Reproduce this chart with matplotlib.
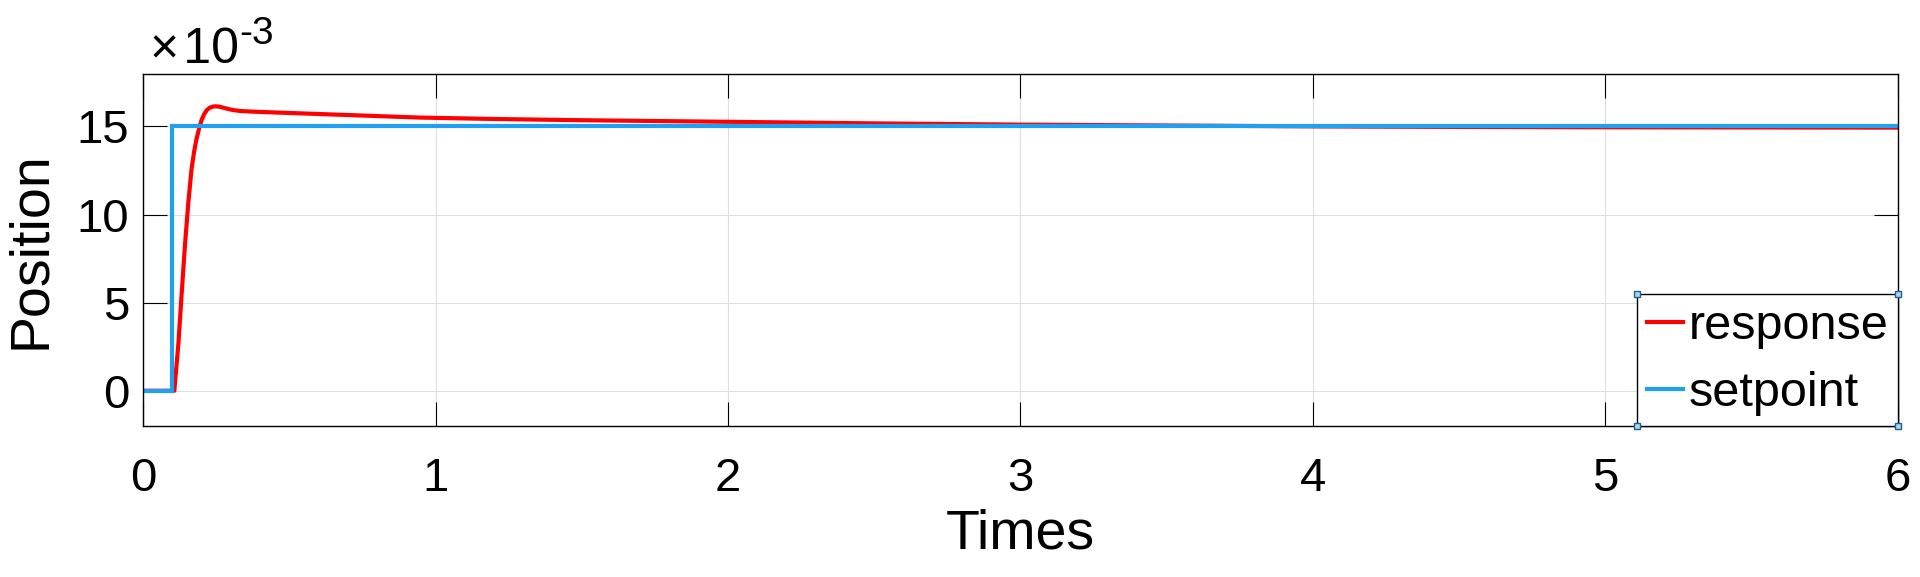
import numpy as np
import matplotlib
matplotlib.use("Agg")
import matplotlib.pyplot as plt
import matplotlib.ticker as ticker
from matplotlib.lines import Line2D

plt.rcParams['font.family'] = ['Liberation Sans', 'DejaVu Sans']

#---------------
# DATA
#---------------
# response (position, m) vs time
t_resp = [0.0, 0.1, 0.107, 0.121, 0.132, 0.144, 0.155, 0.166, 0.175, 0.183,
          0.192, 0.2, 0.209, 0.218, 0.228, 0.238, 0.248, 0.26, 0.275, 0.29,
          0.31, 0.335, 0.37, 0.434, 0.52, 0.605, 0.69, 0.776, 0.86, 0.947,
          1.2, 1.5, 2.0, 2.5, 3.0, 3.5, 4.0, 4.5, 5.0, 5.5, 6.0]
resp = [0.0, 0.0, 0.0, 2.7e-3, 5.5e-3, 8.4e-3, 10.7e-3, 12.6e-3, 13.6e-3, 14.3e-3,
        14.9e-3, 15.35e-3, 15.7e-3, 15.92e-3, 16.06e-3, 16.12e-3, 16.14e-3, 16.12e-3, 16.06e-3, 15.99e-3,
        15.92e-3, 15.87e-3, 15.84e-3, 15.8e-3, 15.75e-3, 15.7e-3, 15.65e-3, 15.6e-3, 15.55e-3, 15.5e-3,
        15.42e-3, 15.35e-3, 15.26e-3, 15.17e-3, 15.1e-3, 15.05e-3, 15.0e-3, 14.97e-3, 14.95e-3, 14.94e-3, 14.93e-3]

# setpoint step
t_set = [0.0, 0.1, 0.1, 6.0]
setp = [0.0, 0.0, 15e-3, 15e-3]

xticks = [0, 1, 2, 3, 4, 5, 6]
yticks = [0, 5e-3, 10e-3, 15e-3]
yexp = -3   # exponent shown above the y axis

#---------------
# PLOT
#---------------
fig = plt.figure(figsize=(19.2, 5.77), dpi=100)
ax = fig.add_axes([0.0745, 0.2617, 0.9140, 0.6109])

ax.plot(t_resp, resp, color='#FF0000', lw=3.0, label='response')
ax.plot(t_set, setp, color='#1FA0F0', lw=3.0, label='setpoint',
        solid_joinstyle='miter')

ax.set_xlim(0, 6)
ax.set_ylim(-2e-3, 18e-3)
ax.set_xticks(xticks)
ax.set_yticks(yticks)

# y tick labels in units of 10^yexp, exponent written by hand (MATLAB style)
ax.yaxis.set_major_formatter(ticker.FuncFormatter(lambda v, p: '%g' % round(v / 10**yexp, 6)))
t1 = ax.text(0.004, 1.03, '\u00d7\u200a10', transform=ax.transAxes, fontsize=36,
             ha='left', va='baseline')
ax.annotate('%d' % yexp, xy=(1, 1.085), xycoords=(t1, ax.transAxes),
            fontsize=28, ha='left', va='baseline', annotation_clip=False)

ax.grid(True, color='#DEDEDE', lw=0.8)
ax.set_axisbelow(True)
ax.tick_params(direction='in', top=True, right=True, length=17.5, width=0.8,
               labelsize=34)
ax.tick_params(axis='x', pad=22)
ax.tick_params(axis='y', pad=10)
for s in ax.spines.values():
    s.set_linewidth(1.0)

ax.set_xlabel('Times', fontsize=40, labelpad=6)
ax.set_ylabel('Position', fontsize=40, labelpad=14)

leg = ax.legend(loc='lower right', bbox_to_anchor=(1.0, 0.0), borderaxespad=0.0,
                fontsize=35, frameon=True, fancybox=False, framealpha=1,
                edgecolor='black', handlelength=0.75, handletextpad=0.1,
                labelspacing=0.46, borderpad=0.2)
leg.get_frame().set_linewidth(1.0)

# selection handles at the legend corners
fig.canvas.draw()
bb = leg.get_window_extent().transformed(fig.transFigure.inverted())
hx = [bb.x0, bb.x1, bb.x0, bb.x1]
hy = [bb.y0, bb.y0, bb.y1, bb.y1]
fig.add_artist(Line2D(hx, hy, transform=fig.transFigure, ls='none', marker='s',
                      ms=5, mfc='#A8D8F5', mec='#1F5F8F', mew=1.0))

fig.savefig('out.png', dpi=100)
